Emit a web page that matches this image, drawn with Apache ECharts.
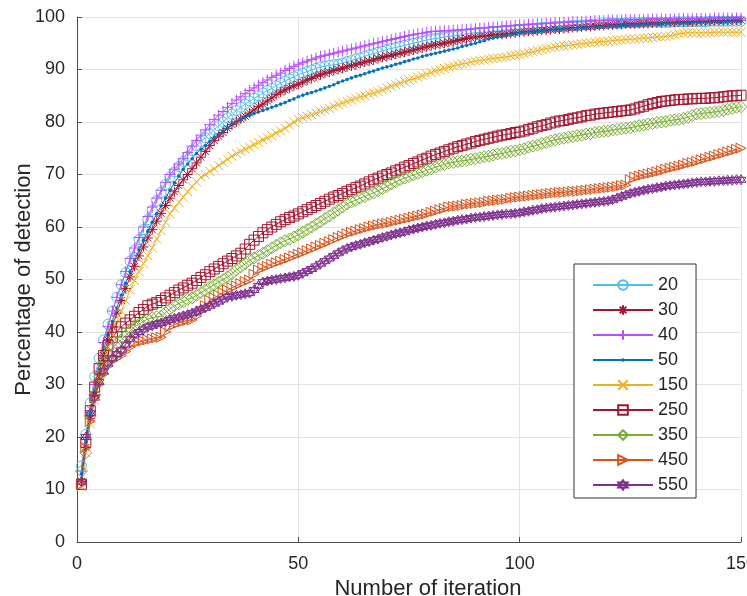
<!DOCTYPE html>
<html>
<head>
<meta charset="utf-8">
<script src="https://cdn.jsdelivr.net/npm/echarts@6/dist/echarts.min.js"></script>
<style>
html,body{margin:0;padding:0;background:#fff;}
#chart{width:747px;height:596px;}
</style>
</head>
<body>
<div id="chart"></div>
<script>
// Legend / series names
const seriesNames = ['20','30','40','50','150','250','350','450','550'];
const xTicks = [0, 50, 100, 150];
const yTicks = [0,10,20,30,40,50,60,70,80,90,100];

// Percentage of detection per iteration (1..150)
const s20 = [
14.5,20.5,26.5,31.5,35.0,38.5,41.5,44.0,46.6,49.0,
51.3,53.5,55.6,57.6,59.5,61.4,63.2,65.0,66.6,68.1,
69.5,70.5,71.5,72.5,73.5,74.6,75.5,76.3,77.0,77.8,
78.5,79.3,80.0,80.8,81.5,82.2,82.8,83.4,84.0,84.5,
85.0,85.5,86.0,86.4,86.9,87.4,87.8,88.2,88.6,89.0,
89.3,89.6,89.9,90.2,90.5,90.6,90.8,90.9,91.0,91.2,
91.5,91.7,92.0,92.2,92.5,92.8,93.0,93.3,93.5,93.8,
94.0,94.2,94.4,94.6,94.8,95.0,95.2,95.4,95.6,95.8,
95.9,96.0,96.2,96.3,96.4,96.5,96.6,96.8,96.9,97.0,
97.1,97.1,97.2,97.3,97.3,97.4,97.5,97.5,97.6,97.7,
97.7,97.8,97.8,97.9,98.0,98.0,98.1,98.2,98.2,98.3,
98.3,98.4,98.4,98.5,98.5,98.6,98.6,98.7,98.7,98.8,
98.8,98.8,98.8,98.9,98.9,98.9,98.9,99.0,99.0,99.0,
99.0,99.0,99.0,99.0,99.1,99.1,99.1,99.1,99.1,99.1,
99.1,99.1,99.2,99.2,99.2,99.2,99.2,99.2,99.2,99.2];
const s30 = [
11.5,18.0,23.5,28.0,32.0,35.5,38.5,41.0,43.6,46.0,
48.3,50.5,52.5,54.5,56.2,57.9,59.5,61.1,62.6,64.1,
65.5,66.7,67.9,69.0,70.0,71.1,72.2,73.3,74.4,75.5,
76.5,77.3,78.0,78.8,79.5,80.0,80.6,81.1,81.7,82.3,
82.9,83.4,84.0,84.6,85.2,85.7,86.1,86.5,86.9,87.2,
87.6,88.0,88.3,88.7,89.0,89.3,89.5,89.8,90.0,90.2,
90.5,90.7,90.9,91.2,91.4,91.6,91.8,92.1,92.3,92.5,
92.7,92.9,93.1,93.3,93.5,93.7,93.9,94.1,94.3,94.5,
94.7,94.8,95.0,95.2,95.3,95.5,95.7,95.9,96.0,96.2,
96.3,96.4,96.5,96.6,96.7,96.7,96.8,96.9,97.0,97.1,
97.2,97.3,97.3,97.4,97.5,97.5,97.6,97.7,97.7,97.8,
97.9,98.0,98.0,98.1,98.2,98.2,98.3,98.4,98.4,98.5,
98.5,98.6,98.6,98.7,98.7,98.7,98.8,98.8,98.8,98.9,
98.9,98.9,99.0,99.0,99.0,99.1,99.1,99.1,99.1,99.2,
99.2,99.2,99.2,99.3,99.3,99.3,99.3,99.4,99.4,99.4];
const s40 = [
13.5,19.5,25.0,30.0,34.0,38.0,41.0,44.0,46.6,49.0,
51.5,54.0,56.0,58.0,60.0,62.0,63.8,65.5,67.0,68.5,
70.0,71.0,72.0,73.0,74.2,75.4,76.5,77.5,78.5,79.5,
80.5,81.3,82.0,82.8,83.5,84.2,84.8,85.4,86.0,86.5,
87.0,87.5,88.0,88.5,88.9,89.3,89.8,90.2,90.6,91.0,
91.3,91.6,91.9,92.2,92.5,92.7,92.9,93.1,93.3,93.5,
93.7,93.9,94.1,94.3,94.5,94.7,94.9,95.1,95.3,95.5,
95.7,95.9,96.1,96.3,96.5,96.6,96.8,96.9,97.1,97.2,
97.3,97.3,97.4,97.4,97.5,97.5,97.6,97.6,97.7,97.8,
97.9,97.9,98.0,98.1,98.1,98.2,98.3,98.3,98.4,98.5,
98.5,98.6,98.6,98.7,98.7,98.8,98.8,98.9,98.9,99.0,
99.0,99.1,99.1,99.1,99.2,99.2,99.3,99.3,99.3,99.4,
99.4,99.4,99.4,99.5,99.5,99.5,99.5,99.5,99.6,99.6,
99.6,99.6,99.6,99.6,99.6,99.7,99.7,99.7,99.7,99.7,
99.7,99.7,99.7,99.8,99.8,99.8,99.8,99.8,99.8,99.8];
const s50 = [
13.0,19.0,24.5,29.0,33.0,36.5,39.5,42.0,44.6,47.0,
49.3,51.5,53.6,55.6,57.5,59.2,60.9,62.5,64.0,65.5,
67.0,68.4,69.7,71.0,72.0,73.0,74.0,74.8,75.5,76.3,
77.0,77.6,78.3,78.9,79.5,80.0,80.4,80.9,81.3,81.6,
81.9,82.2,82.5,82.8,83.1,83.4,83.7,84.1,84.4,84.8,
85.1,85.4,85.6,85.9,86.2,86.5,86.8,87.1,87.5,87.8,
88.1,88.4,88.7,88.9,89.2,89.5,89.7,90.0,90.3,90.5,
90.7,91.0,91.2,91.5,91.7,92.0,92.2,92.5,92.7,92.9,
93.1,93.3,93.5,93.7,93.9,94.1,94.4,94.6,94.8,95.0,
95.3,95.5,95.8,96.0,96.2,96.3,96.5,96.7,96.8,97.0,
97.1,97.2,97.2,97.3,97.4,97.5,97.6,97.6,97.7,97.8,
97.8,97.9,97.9,98.0,98.0,98.1,98.1,98.2,98.2,98.3,
98.3,98.3,98.4,98.4,98.5,98.5,98.5,98.6,98.6,98.7,
98.7,98.7,98.8,98.8,98.8,98.9,98.9,98.9,99.0,99.0,
99.0,99.0,99.1,99.1,99.1,99.1,99.2,99.2,99.2,99.2];
const s150 = [
10.5,17.0,22.5,27.0,31.0,34.0,37.0,39.5,41.8,44.0,
46.0,48.0,49.8,51.5,53.0,54.5,56.0,57.7,59.3,60.9,
62.5,63.6,64.7,65.7,66.7,67.7,68.6,69.5,70.0,70.6,
71.1,71.7,72.3,72.9,73.5,74.0,74.4,74.8,75.2,75.7,
76.1,76.6,77.0,77.4,77.9,78.3,78.8,79.4,80.0,80.5,
80.8,81.1,81.4,81.7,82.0,82.3,82.6,83.0,83.3,83.6,
83.9,84.2,84.5,84.8,85.0,85.3,85.5,85.8,86.1,86.5,
86.8,87.1,87.4,87.7,88.0,88.2,88.5,88.8,89.1,89.4,
89.7,89.9,90.2,90.5,90.7,90.9,91.1,91.2,91.4,91.6,
91.7,91.8,92.0,92.1,92.2,92.3,92.4,92.6,92.7,92.8,
93.0,93.2,93.4,93.6,93.8,94.0,94.1,94.3,94.4,94.5,
94.6,94.7,94.8,94.9,95.0,95.1,95.2,95.3,95.3,95.4,
95.5,95.6,95.6,95.7,95.8,95.8,95.9,96.0,96.0,96.1,
96.2,96.2,96.3,96.4,96.6,96.8,96.9,97.0,97.0,97.0,
97.0,97.0,97.0,97.1,97.1,97.1,97.1,97.1,97.1,97.1];
const s250 = [
11.0,19.0,25.0,29.5,33.0,35.5,37.5,39.0,40.0,41.0,
41.7,42.3,43.0,43.7,44.3,45.0,45.3,45.6,46.0,46.5,
47.0,47.5,48.0,48.4,48.9,49.3,49.8,50.4,50.9,51.5,
52.0,52.5,53.0,53.5,54.0,54.5,55.0,55.8,56.7,57.5,
58.2,58.9,59.5,60.0,60.5,61.0,61.4,61.8,62.1,62.5,
62.9,63.3,63.7,64.1,64.5,64.9,65.3,65.7,66.0,66.4,
66.8,67.1,67.5,67.8,68.2,68.6,69.0,69.3,69.7,70.0,
70.3,70.7,71.0,71.4,71.7,72.1,72.4,72.8,73.1,73.5,
73.8,74.1,74.4,74.7,75.0,75.3,75.5,75.8,76.0,76.3,
76.5,76.7,76.9,77.1,77.3,77.5,77.6,77.8,78.0,78.1,
78.3,78.6,78.8,79.1,79.3,79.5,79.8,80.0,80.2,80.3,
80.5,80.7,80.8,81.0,81.2,81.3,81.5,81.6,81.7,81.8,
81.9,82.0,82.1,82.2,82.3,82.5,82.8,83.0,83.3,83.5,
83.7,83.9,84.0,84.1,84.2,84.3,84.3,84.4,84.4,84.5,
84.5,84.5,84.6,84.6,84.7,84.8,84.9,85.0,85.0,85.1];
const s350 = [
13.5,17.0,24.0,28.0,31.5,34.0,36.0,37.0,37.8,38.5,
39.3,40.2,41.0,41.5,42.0,42.5,42.7,42.9,43.0,43.7,
44.4,45.0,45.4,45.8,46.2,46.5,47.0,47.5,48.0,48.5,
49.0,49.5,50.0,50.5,51.1,51.8,52.4,53.0,53.7,54.1,
54.6,55.0,55.5,56.0,56.5,57.0,57.4,57.7,58.1,58.5,
59.0,59.5,60.0,60.5,61.0,61.6,62.1,62.7,63.2,63.8,
64.4,64.8,65.1,65.5,65.8,66.2,66.5,66.9,67.3,67.7,
68.2,68.6,69.0,69.3,69.6,69.9,70.2,70.5,70.8,71.1,
71.4,71.7,71.9,72.2,72.3,72.5,72.6,72.7,72.9,73.0,
73.2,73.4,73.5,73.7,73.9,74.0,74.2,74.4,74.5,74.7,
74.9,75.2,75.4,75.6,75.9,76.1,76.4,76.6,76.8,76.9,
77.1,77.2,77.4,77.5,77.7,77.8,78.0,78.1,78.2,78.3,
78.5,78.6,78.7,78.8,78.9,79.1,79.3,79.4,79.6,79.7,
79.9,80.0,80.1,80.3,80.4,80.5,80.7,80.9,81.2,81.5,
81.6,81.7,81.8,81.9,82.0,82.2,82.4,82.6,82.8,82.9];
const s450 = [
11.0,18.0,23.0,27.5,30.0,32.0,33.5,34.5,35.0,35.5,
36.3,37.1,37.9,38.1,38.3,38.5,38.7,38.9,39.0,40.0,
41.0,41.4,41.7,42.0,42.2,42.3,43.0,44.0,45.0,46.0,
46.5,47.0,47.5,48.0,48.4,48.8,49.2,49.6,49.9,51.0,
51.8,52.2,52.5,52.9,53.2,53.5,53.8,54.1,54.5,54.8,
55.1,55.5,55.8,56.2,56.5,56.9,57.2,57.6,58.0,58.3,
58.7,59.0,59.2,59.5,59.7,60.0,60.2,60.4,60.6,60.7,
60.9,61.1,61.3,61.5,61.7,61.9,62.1,62.3,62.5,62.8,
63.0,63.3,63.5,63.8,63.9,64.0,64.1,64.3,64.4,64.5,
64.6,64.7,64.9,65.0,65.1,65.2,65.3,65.5,65.6,65.7,
65.8,65.9,66.0,66.1,66.2,66.3,66.4,66.5,66.6,66.6,
66.7,66.8,66.8,66.9,67.0,67.1,67.2,67.3,67.4,67.5,
67.6,67.7,67.9,68.0,69.0,69.5,69.7,69.9,70.1,70.3,
70.5,70.7,71.0,71.2,71.4,71.6,71.8,72.1,72.3,72.5,
72.8,73.0,73.3,73.5,73.8,74.0,74.3,74.5,74.8,75.0];
const s550 = [
11.5,20.0,24.5,27.5,30.5,32.5,34.0,35.0,35.8,36.5,
37.6,38.7,39.5,40.0,40.5,41.0,41.2,41.5,41.7,42.0,
42.3,42.6,42.8,43.1,43.3,43.6,43.9,44.3,44.6,45.0,
45.4,45.8,46.2,46.7,46.8,47.0,47.1,47.3,47.4,48.0,
48.8,49.5,49.7,49.9,50.0,50.2,50.3,50.5,50.6,50.8,
51.2,51.6,52.0,52.5,53.0,53.5,54.0,54.5,55.0,55.5,
55.9,56.2,56.5,56.7,57.0,57.2,57.5,57.7,58.0,58.2,
58.5,58.7,58.9,59.1,59.4,59.6,59.8,60.0,60.2,60.3,
60.5,60.7,60.8,61.0,61.1,61.3,61.4,61.5,61.7,61.8,
61.9,62.0,62.1,62.2,62.3,62.4,62.5,62.5,62.6,62.7,
62.9,63.0,63.2,63.3,63.5,63.6,63.7,63.8,63.9,64.0,
64.1,64.2,64.3,64.4,64.5,64.6,64.7,64.8,64.9,65.0,
65.2,65.5,65.8,66.1,66.4,66.6,66.8,67.0,67.2,67.3,
67.5,67.6,67.8,67.9,68.0,68.1,68.2,68.3,68.4,68.5,
68.6,68.6,68.7,68.7,68.8,68.8,68.9,68.9,69.0,69.0];

const allValues = [s20, s30, s40, s50, s150, s250, s350, s450, s550];
const colors = ['#4DBEEE','#A2142F','#B84DFF','#0072BD','#EDB120','#A2142F','#77AC30','#D95319','#7E2F8E'];

const SYM = {
  circle: 'circle',
  star: 'path://M5 0L5 10M0 5L10 5M1.5 1.5L8.5 8.5M8.5 1.5L1.5 8.5',
  plus: 'path://M5 0L5 10M0 5L10 5',
  dot: 'path://M0 0L0 0M10 10L10 10M5 3.2A1.8 1.8 0 1 1 5 6.8A1.8 1.8 0 1 1 5 3.2Z',
  cross: 'path://M0 0L10 10M10 0L0 10',
  square: 'rect',
  diamond: 'diamond',
  tri: 'path://M0 0L10 5L0 10Z',
  hex: 'path://M5 0L9.33 7.5L0.67 7.5Z M5 10L0.67 2.5L9.33 2.5Z'
};
const symbols = [SYM.circle, SYM.star, SYM.plus, SYM.dot, SYM.cross, SYM.square, SYM.diamond, SYM.tri, SYM.hex];
const sizes = [10, 10, 11, 10, 9, 10, 12, 10, 10];

const FONT = "'Liberation Sans', Arial, Helvetica, sans-serif";
const TXT = '#262626';

const series = seriesNames.map((name, k) => {
  const vals = allValues[k];
  const isDot = k === 3;
  return {
    name: name,
    type: 'line',
    data: vals.map((v, i) => [i + 1, v]),
    symbol: symbols[k],
    symbolSize: sizes[k],
    showSymbol: true,
    showAllSymbol: true,
    smooth: false,
    lineStyle: { color: colors[k], width: 1 },
    itemStyle: isDot
      ? { color: colors[k], borderColor: colors[k], borderWidth: 0 }
      : { color: 'rgba(255,255,255,0)', borderColor: colors[k], borderWidth: 1 },
    emphasis: { disabled: true },
    animation: false,
    z: 2
  };
});

const chart = echarts.init(document.getElementById('chart'), null, { renderer: 'canvas' });
chart.setOption({
  backgroundColor: '#fff',
  animation: false,
  grid: { left: 77, right: 6, top: 17, bottom: 54, containLabel: false, outerBoundsMode: 'none' },
  xAxis: {
    type: 'value', min: xTicks[0], max: xTicks[xTicks.length - 1], interval: 50,
    name: 'Number of iteration', nameLocation: 'middle', nameGap: 36, nameMoveOverlap: false,
    nameTextStyle: { fontFamily: FONT, fontSize: 22, color: TXT, padding: [0, 0, 0, 38] },
    axisLine: { lineStyle: { color: '#4d4d4d', width: 1 } },
    axisTick: { inside: true, length: 5, lineStyle: { color: '#4d4d4d' } },
    axisLabel: { fontFamily: FONT, fontSize: 18, color: TXT, margin: 13, hideOverlap: false },
    splitLine: { show: true, lineStyle: { color: '#e3e3e3', width: 1 } }
  },
  yAxis: {
    type: 'value', min: yTicks[0], max: yTicks[yTicks.length - 1], interval: 10,
    name: 'Percentage of detection', nameLocation: 'middle', nameGap: 42, nameMoveOverlap: false,
    nameTextStyle: { fontFamily: FONT, fontSize: 22, color: TXT },
    axisLine: { show: true, lineStyle: { color: '#4d4d4d', width: 1 } },
    axisTick: { show: true, inside: true, length: 5, lineStyle: { color: '#4d4d4d' } },
    axisLabel: { fontFamily: FONT, fontSize: 18, color: TXT, margin: 12 },
    splitLine: { show: true, lineStyle: { color: '#e3e3e3', width: 1 } }
  },
  legend: {
    data: seriesNames,
    orient: 'vertical',
    left: 574, top: 264,
    padding: [12, 8, 4, 18],
    itemWidth: 60, itemHeight: 12, itemGap: 7,
    backgroundColor: '#fff',
    borderColor: '#333', borderWidth: 1,
    textStyle: { fontFamily: FONT, fontSize: 18, color: TXT },
    selectedMode: false
  },
  series: series
});
</script>
</body>
</html>
